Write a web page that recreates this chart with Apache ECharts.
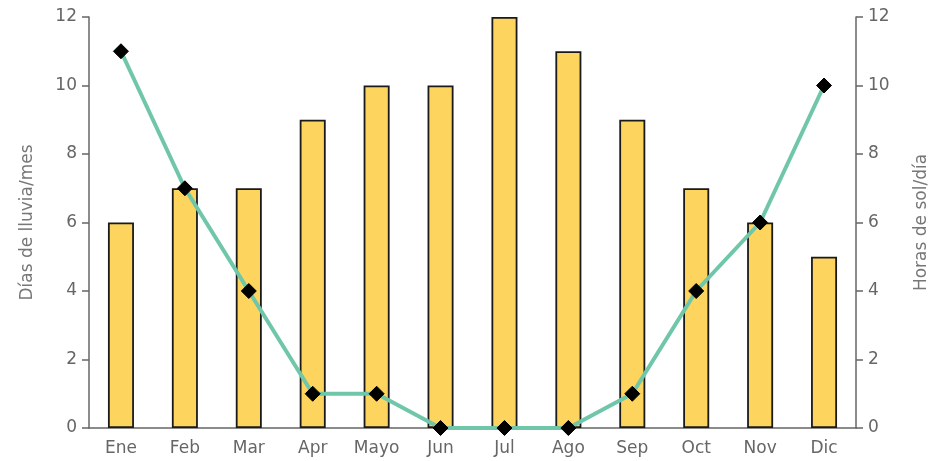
<!DOCTYPE html>
<html>
<head>
<meta charset="utf-8">
<script src="https://cdn.jsdelivr.net/npm/echarts@6/dist/echarts.min.js"></script>
<style>
  html, body { margin: 0; padding: 0; background: #fff; }
  #chart { width: 949px; height: 461px; }
</style>
</head>
<body>
<div id="chart"></div>
<script>
// Climate summary: rainy days per month (bars) and daily sunshine hours (line)
const months = ['Ene', 'Feb', 'Mar', 'Apr', 'Mayo', 'Jun', 'Jul', 'Ago', 'Sep', 'Oct', 'Nov', 'Dic'];
const rainDays = [6, 7, 7, 9, 10, 10, 12, 11, 9, 7, 6, 5];
const sunHours = [11, 7, 4, 1, 1, 0, 0, 0, 1, 4, 6, 10];
const yTicks = [0, 2, 4, 6, 8, 10, 12];

const textColor = '#666';
const axisColor = '#666';
const font = 'DejaVu Sans';

const chart = echarts.init(document.getElementById('chart'), null, { renderer: 'canvas' });

function valueAxis(name, position) {
  return {
    type: 'value',
    position: position,
    min: yTicks[0],
    max: yTicks[yTicks.length - 1],
    interval: 2,
    name: name,
    nameLocation: 'middle',
    nameRotate: 90,
    nameGap: position === 'left' ? 53 : 57,
    nameTextStyle: { color: '#777', fontFamily: font, fontSize: 17 },
    axisLine: { show: true, lineStyle: { color: axisColor, width: 1.5 } },
    axisTick: { show: true, inside: false, length: 7, lineStyle: { color: axisColor, width: 1.5 } },
    axisLabel: { color: textColor, fontFamily: font, fontSize: 17, margin: 12 },
    splitLine: { show: false }
  };
}

chart.setOption({
  animation: false,
  backgroundColor: '#fff',
  grid: { left: 89, right: 93, top: 17, bottom: 33 },
  xAxis: {
    type: 'category',
    data: months,
    boundaryGap: true,
    axisLine: { show: true, lineStyle: { color: axisColor, width: 1.5 } },
    axisTick: { show: false },
    axisLabel: { color: textColor, fontFamily: font, fontSize: 17, margin: 12, interval: 0 }
  },
  yAxis: [valueAxis('Días de lluvia/mes', 'left'), valueAxis('Horas de sol/día', 'right')],
  series: [
    {
      name: 'Días de lluvia',
      type: 'bar',
      yAxisIndex: 0,
      data: rainDays,
      barWidth: 26,
      itemStyle: { color: '#fdd45e', borderColor: '#1a1a1a', borderWidth: 1.8 }
    },
    {
      name: 'Horas de sol',
      type: 'line',
      yAxisIndex: 1,
      data: sunHours,
      symbol: 'diamond',
      symbolSize: 15,
      lineStyle: { color: '#70c6a9', width: 4 },
      itemStyle: { color: '#000', borderColor: '#000' },
      z: 5
    }
  ]
});
</script>
</body>
</html>
